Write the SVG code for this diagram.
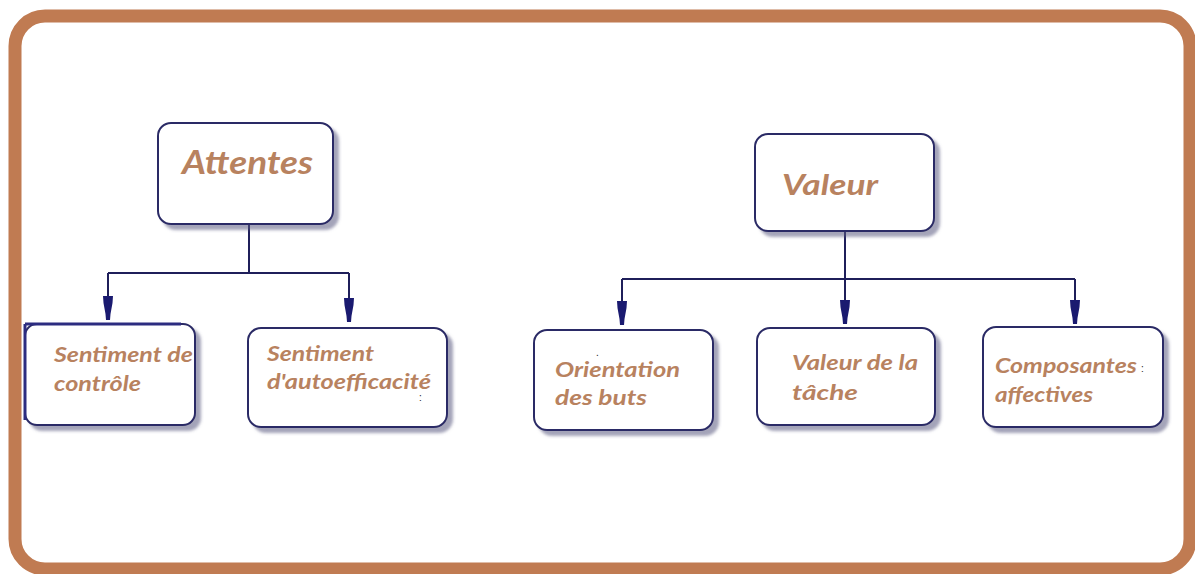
<svg xmlns="http://www.w3.org/2000/svg" width="1195" height="574" viewBox="0 0 1195 574">
  <style>
    .box { fill: #ffffff; stroke: #2c2c66; stroke-width: 2; filter: url(#sh); }
    .lbl { font-family: Lato, "Open Sans", "Liberation Sans", sans-serif; font-style: italic; font-weight: 700; fill: #B8825F; }
    .conn { fill: none; stroke: #1f1f5a; stroke-width: 2; }
    .ah { fill: #1a1a70; }
    .dot { font-family: "Liberation Sans", sans-serif; font-size: 10px; fill: #222; }
  </style>
  <defs>
    <filter id="sh" x="-10%" y="-10%" width="130%" height="130%">
      <feDropShadow dx="5" dy="5" stdDeviation="1.5" flood-color="#5a5a80" flood-opacity="0.55"/>
    </filter>
    <path id="arrow" d="M-5,0 L5,0 L4.5,7 L2.5,18 L2,24 L-2,24 L-2.5,18 L-4.5,7 Z"/>
  </defs>
  <rect x="0" y="0" width="1195" height="574" fill="#ffffff"/>
  <rect x="15" y="16" width="1175" height="553" rx="30" fill="#ffffff" stroke="#C07B52" stroke-width="13"/>

  <g id="connectors">
    <path class="conn" d="M249,224 V273 M108,273 H349 M108,273 V300 M349,273 V300"/>
    <path class="conn" d="M845,231 V279 M622,279 H1075 M622,279 V302 M845,279 V302 M1075,279 V302"/>
    <use href="#arrow" class="ah" x="108" y="296"/>
    <use href="#arrow" class="ah" x="349" y="298"/>
    <use href="#arrow" class="ah" x="622" y="301"/>
    <use href="#arrow" class="ah" x="845" y="300"/>
    <use href="#arrow" class="ah" x="1075" y="300"/>
  </g>

  <g id="attentes">
    <rect class="box" x="158" y="123" width="175" height="101" rx="13"/>
    <text class="lbl" x="182" y="174" font-size="32" textLength="131" lengthAdjust="spacingAndGlyphs">Attentes</text>
  </g>

  <g id="valeur">
    <rect class="box" x="755" y="134" width="179" height="97" rx="13"/>
    <text class="lbl" x="782" y="195" font-size="29" textLength="96" lengthAdjust="spacingAndGlyphs">Valeur</text>
  </g>

  <g id="sentiment-controle">
    <rect class="box" x="25" y="324" width="170" height="101" rx="12"/>
    <line x1="25" y1="324" x2="181" y2="324" stroke="#2c2c80" stroke-width="3"/>
    <line x1="25" y1="324" x2="25" y2="420" stroke="#2c2c80" stroke-width="3"/>
    <text class="lbl" x="54" y="362" font-size="20" textLength="139" lengthAdjust="spacingAndGlyphs">Sentiment de</text>
    <text class="lbl" x="54" y="391" font-size="20" textLength="87" lengthAdjust="spacingAndGlyphs">contrôle</text>
  </g>

  <g id="sentiment-autoefficacite">
    <rect class="box" x="248" y="328" width="199" height="99" rx="13"/>
    <text class="lbl" x="267" y="361" font-size="20" textLength="107" lengthAdjust="spacingAndGlyphs">Sentiment</text>
    <text class="lbl" x="267" y="389" font-size="20" textLength="164" lengthAdjust="spacingAndGlyphs">d'autoefficacité</text>
    <text class="dot" x="419" y="401">:</text>
  </g>

  <g id="orientation">
    <rect class="box" x="534" y="330" width="179" height="100" rx="13"/>
    <text class="lbl" x="555" y="377" font-size="20" textLength="125" lengthAdjust="spacingAndGlyphs">Orientation</text>
    <text class="lbl" x="555" y="405" font-size="20" textLength="92" lengthAdjust="spacingAndGlyphs">des buts</text>
    <text class="dot" x="596" y="356" font-size="6">.</text>
  </g>

  <g id="valeur-tache">
    <rect class="box" x="757" y="328" width="178" height="97" rx="13"/>
    <text class="lbl" x="792" y="370" font-size="20" textLength="126" lengthAdjust="spacingAndGlyphs">Valeur de la</text>
    <text class="lbl" x="792" y="400" font-size="20" textLength="66" lengthAdjust="spacingAndGlyphs">tâche</text>
  </g>

  <g id="composantes">
    <rect class="box" x="983" y="327" width="180" height="100" rx="13"/>
    <text class="lbl" x="995" y="373" font-size="21" textLength="142" lengthAdjust="spacingAndGlyphs">Composantes</text>
    <text class="lbl" x="995" y="402" font-size="21" textLength="98" lengthAdjust="spacingAndGlyphs">affectives</text>
    <text class="dot" x="1141" y="372">:</text>
  </g>
</svg>
